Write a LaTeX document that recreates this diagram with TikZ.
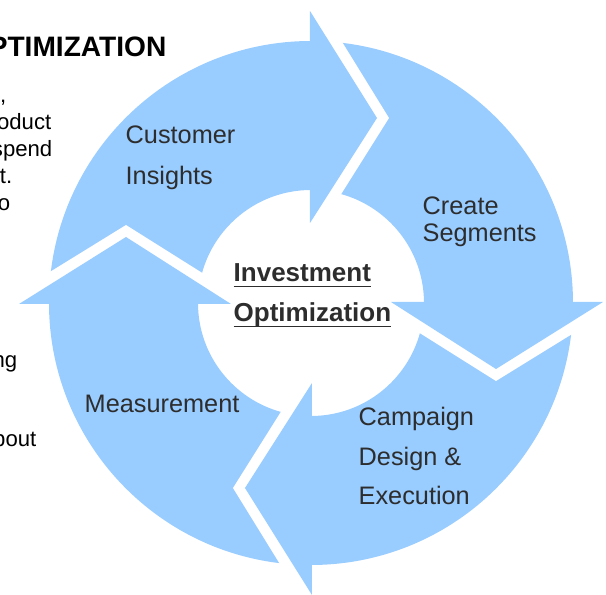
\documentclass[tikz,border=0pt]{standalone}
\usepackage{fontspec}
\setmainfont{Liberation Sans}
\usetikzlibrary{positioning}
\definecolor{cycleblue}{RGB}{153,204,255}
\definecolor{cyclegray}{RGB}{45,45,45}

\begin{document}
\begin{tikzpicture}[
  steplabel/.style={anchor=west, inner sep=0pt, align=left, text=cyclegray, font=\fontsize{7.2}{11.6}\selectfont},
  hublabel/.style={anchor=west, inner sep=0pt, align=left, text=cyclegray, font=\bfseries\fontsize{7.4}{11.4}\selectfont},
  sidetext/.style={anchor=base east, inner sep=0pt, font=\fontsize{6.3}{7.5}\selectfont}
]
\clip (-3.11,-2.92) rectangle (2.95,3.03);

% ring segments (top one, then turned clockwise)
\foreach \r in {0,-90,-180,-270}
  \fill[cycleblue, rotate=\r] (90:1.13) arc (90:180:1.13) -- (180:2.62) arc (180:90:2.62) -- cycle;
% notch in each tail
\foreach \r in {0,-90,-180,-270}
  \fill[white, rotate=\r] (-0.80,0) -- (-0.80,0.12) -- (-1.85,0.78) -- (-2.92,0.12) -- (-2.92,0) -- cycle;
% arrow heads
\foreach \r in {0,-90,-180,-270}
  \fill[cycleblue, rotate=\r] (-0.01,0.80) -- (0.66,1.85) -- (-0.01,2.92) -- cycle;

% step labels
\node[steplabel] (insights) at (-1.86,1.45) {Customer\\Insights};
\node[steplabel, font=\fontsize{7.2}{7.7}\selectfont] (segments) at (1.11,0.81) {Create\\Segments};
\node[steplabel, font=\fontsize{7.2}{11.3}\selectfont] (campaign) at (0.47,-1.53) {Campaign\\Design \&\\Execution};
\node[steplabel] (measure) at (-2.27,-1.01) {Measurement};

% centre
\node[hublabel] (hub) at (-0.78,-0.02) {\underline{\smash{Investment}}\\\underline{\smash{Optimization}}};

% text column on the left
\node[sidetext, font=\bfseries\fontsize{8}{9}\selectfont] (title) at (-1.44,2.46) {OPTIMIZATION};
\node[sidetext] (l1) at (-3.04,2.00) {,};
\node[sidetext] (l2) at (-2.59,1.73) {oduct};
\node[sidetext] (l3) at (-2.58,1.46) {spend};
\node[sidetext] (l4) at (-2.98,1.19) {t.};
\node[sidetext] (l5) at (-3.00,0.92) {o};
\node[sidetext] (l6) at (-2.93,-0.65) {ng};
\node[sidetext] (l7) at (-2.74,-1.44) {bout};
\end{tikzpicture}
\end{document}
